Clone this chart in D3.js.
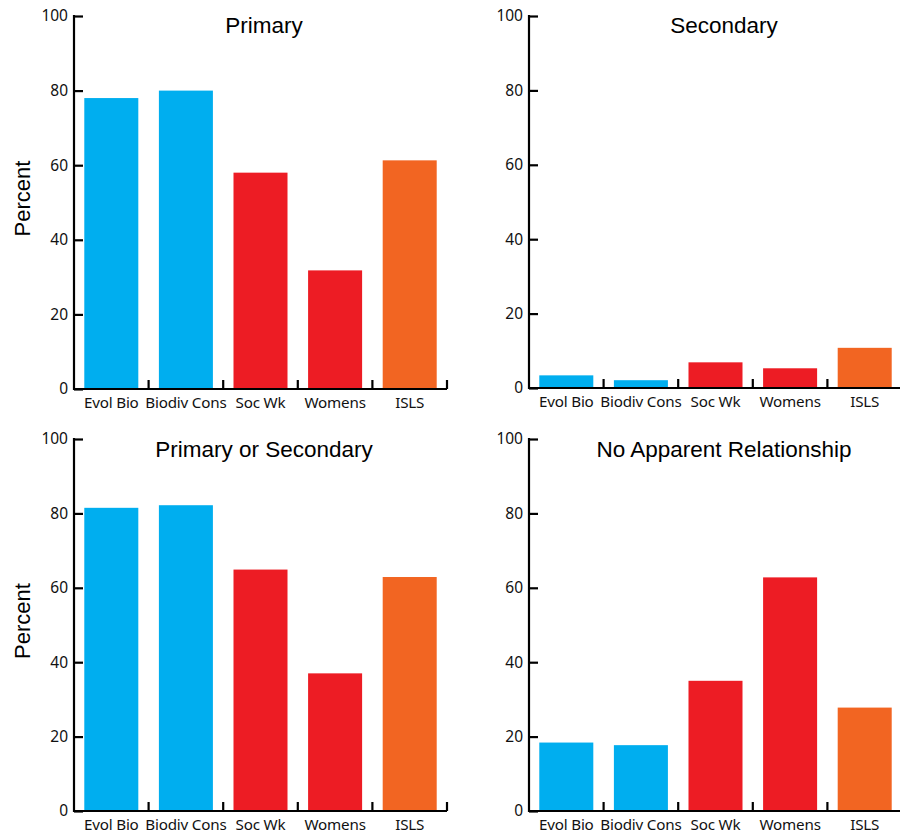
<!DOCTYPE html>
<html>
<head>
<meta charset="utf-8">
<script src="https://cdn.jsdelivr.net/npm/d3@7"></script>
<style>
  html, body { margin: 0; padding: 0; background: #fff; }
  svg { display: block; }
</style>
</head>
<body>
<svg id="chart" width="900" height="833"></svg>
<script>
// ---- data ----
const categories = ["Evol Bio", "Biodiv Cons", "Soc Wk", "Womens", "ISLS"];
const primary = [78, 80, 58, 31.8, 61.3];
const secondary = [3.4, 2.1, 6.9, 5.3, 10.8];
const primaryOrSecondary = [81.5, 82.2, 64.9, 37.0, 62.9];
const noApparentRelationship = [18.4, 17.7, 35.0, 62.8, 27.8];
const panelTitles = ["Primary", "Secondary", "Primary or Secondary", "No Apparent Relationship"];
const yTicks = [0, 20, 40, 60, 80, 100];
const yLabel = "Percent";
const categoryColors = ["#00AEEF", "#00AEEF", "#ED1C24", "#ED1C24", "#F26522"];

const seriesList = [primary, secondary, primaryOrSecondary, noApparentRelationship];

// ---- layout ----
const layout = [
  { x0: 74,  top: 16,  bottom: 389, width: 373, titleX: 264, titleY: 33,  showYLabel: true },
  { x0: 529, top: 16,  bottom: 388, width: 373, titleX: 724, titleY: 33,  showYLabel: false },
  { x0: 74,  top: 439, bottom: 811, width: 373, titleX: 264, titleY: 457, showYLabel: true },
  { x0: 529, top: 439, bottom: 811, width: 373, titleX: 724, titleY: 457, showYLabel: false }
];

const svg = d3.select("#chart");
const tickFont = "'Noto Sans', 'Open Sans', sans-serif";
const titleFont = "'Liberation Sans', Arial, sans-serif";

seriesList.forEach((values, pi) => {
  const L = layout[pi];
  const g = svg.append("g");

  const x = d3.scaleBand()
    .domain(categories)
    .range([L.x0, L.x0 + L.width])
    .paddingInner(0.276)
    .paddingOuter(0.138);

  const y = d3.scaleLinear().domain([0, 100]).range([L.bottom, L.top]);

  // bars
  g.selectAll("rect.bar")
    .data(values)
    .join("rect")
    .attr("class", "bar")
    .attr("x", (d, i) => x(categories[i]))
    .attr("width", x.bandwidth())
    .attr("y", d => y(d))
    .attr("height", d => y(0) - y(d))
    .attr("fill", (d, i) => categoryColors[i]);

  // y axis
  const yAxis = d3.axisLeft(y)
    .tickValues(yTicks)
    .tickSizeInner(-9)
    .tickSizeOuter(0)
    .tickPadding(6);
  const yg = g.append("g")
    .attr("transform", `translate(${L.x0},0)`)
    .call(yAxis);
  yg.select(".domain").attr("stroke", "#000").attr("stroke-width", 2.2)
    .attr("d", `M0,${L.top - 1}V${L.bottom + 1}`);
  yg.selectAll(".tick line").attr("stroke", "#000").attr("stroke-width", 2.2);
  yg.selectAll(".tick text")
    .attr("fill", "#111")
    .style("font-family", tickFont)
    .style("font-size", "15.5px");

  // x axis baseline
  g.append("line")
    .attr("x1", L.x0 - 1).attr("x2", L.x0 + L.width)
    .attr("y1", L.bottom).attr("y2", L.bottom)
    .attr("stroke", "#000").attr("stroke-width", 2.2);

  // boundary ticks between categories (pointing up)
  const step = x.step();
  const boundaries = categories.map(c => x(c) + x.bandwidth() + (step - x.bandwidth()) / 2);
  g.selectAll("line.xtick")
    .data(boundaries)
    .join("line")
    .attr("class", "xtick")
    .attr("x1", d => d).attr("x2", d => d)
    .attr("y1", L.bottom).attr("y2", L.bottom - 9)
    .attr("stroke", "#000").attr("stroke-width", 2.2);

  // x labels
  const xAxis = d3.axisBottom(x).tickSize(0).tickPadding(8);
  const xg = g.append("g")
    .attr("transform", `translate(0,${L.bottom})`)
    .call(xAxis);
  xg.select(".domain").remove();
  xg.selectAll(".tick text")
    .attr("fill", "#111")
    .style("font-family", tickFont)
    .style("font-size", "15.2px")
    .style("letter-spacing", "-0.2px");

  // title
  g.append("text")
    .attr("x", L.titleX)
    .attr("y", L.titleY)
    .attr("text-anchor", "middle")
    .style("font-family", titleFont)
    .style("font-size", "22.5px")
    .attr("fill", "#000")
    .text(panelTitles[pi]);

  // y label
  if (L.showYLabel) {
    const cy = (L.top + L.bottom) / 2 - 4;
    g.append("text")
      .attr("transform", `translate(30,${cy}) rotate(-90)`)
      .attr("text-anchor", "middle")
      .style("font-family", titleFont)
      .style("font-size", "22px")
      .attr("fill", "#000")
      .text(yLabel);
  }
});
</script>
</body>
</html>
